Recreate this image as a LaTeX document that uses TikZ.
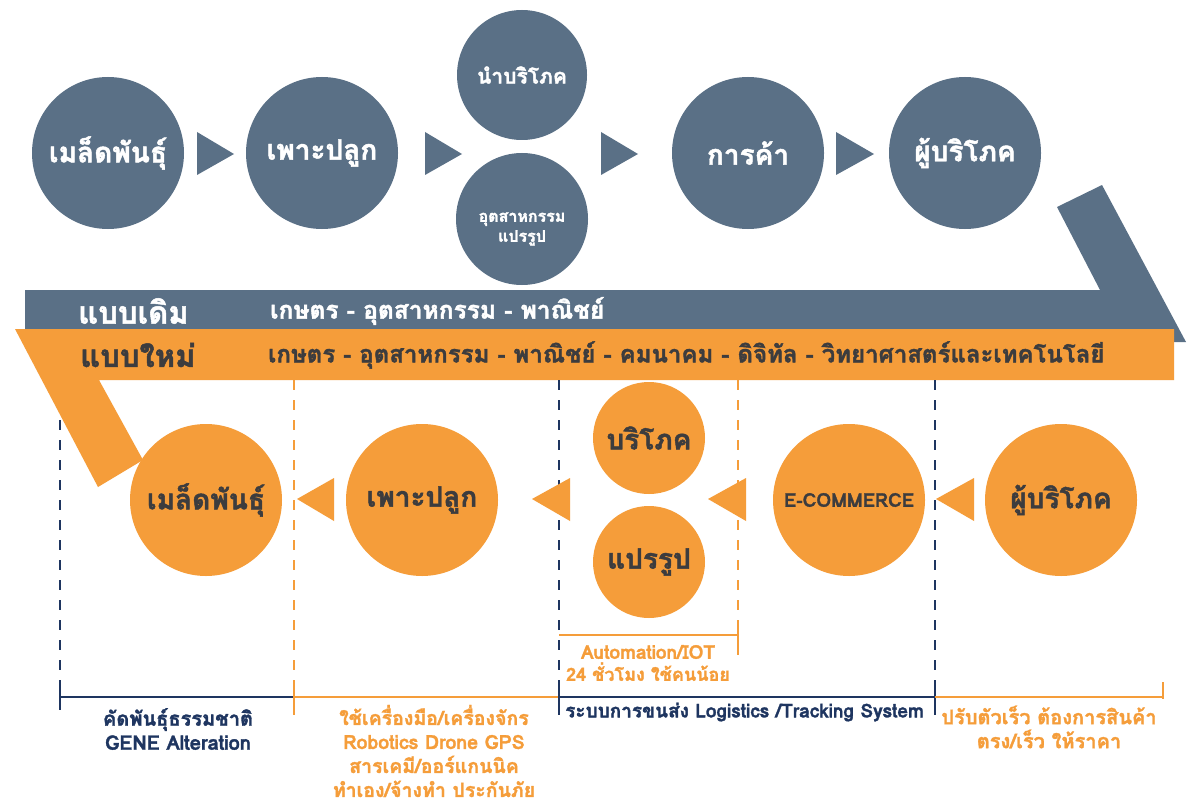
\documentclass[tikz,border=0pt]{standalone}
\usepackage{fontspec}
\setmainfont[Script=Thai, BoldFeatures={FakeBold=1.6}]{Loma}
\definecolor{slate}{HTML}{5A7086}
\definecolor{org}{HTML}{F59D3A}
\definecolor{navy}{HTML}{1E3560}
\definecolor{dk}{HTML}{3C3C3E}
\newcommand{\fsz}[1]{\fontsize{#1}{#1}\selectfont}
\begin{document}
\begin{tikzpicture}[x=1pt,y=-1pt,
  sc/.style={circle, fill=slate, text=white, minimum size=152pt, inner sep=0pt, font=\bfseries\fsz{28}},
  oc/.style={circle, fill=org, text=dk, minimum size=152pt, inner sep=0pt, font=\bfseries\fsz{28}},
  navydash/.style={navy, line width=2.5pt, dash pattern=on 10pt off 10pt},
  orgdash/.style={org, line width=2.5pt, dash pattern=on 10pt off 10pt},
  navyline/.style={navy, line width=2.5pt},
  orgline/.style={org, line width=2.5pt},
  lbl/.style={inner sep=0pt, align=center, font=\bfseries\fsz{20}}
]
\useasboundingbox (0,0) rectangle (1190,805);
\fill[white] (0,0) rectangle (1190,805);

% ---------- top row (old model) ----------
\node[sc] (s1) at (108,153) {เมล็ดพันธุ์};
\node[sc] (s2) at (322,153) {เพาะปลูก};
\node[sc, minimum size=130pt, font=\bfseries\fsz{21}] (s3a) at (522,75) {นำบริโภค};
\node[sc, minimum size=132pt] (s3b) at (522,219) {};
\node[inner sep=0pt, text=white, font=\bfseries\fsz{16}, align=center, yshift=-10pt] (s3bt) at (s3b.center) {อุตสาหกรรม\\[4pt]แปรรูป};
\node[sc] (s4) at (748,153) {การค้า};
\node[sc] (s5) at (965,153) {ผู้บริโภค};

\fill[slate] (197,132) -- (234,154) -- (197,175) -- cycle;
\fill[slate] (425,132) -- (462,154) -- (425,175) -- cycle;
\fill[slate] (601,132) -- (638,154) -- (601,175) -- cycle;
\fill[slate] (836,132) -- (874,154) -- (836,175) -- cycle;

% ---------- bands ----------
\fill[slate] (25,290) -- (1100,290) -- (1057,207) -- (1102,185) -- (1186,342) -- (25,342) -- cycle;
\fill[org] (15,329) -- (1174,329) -- (1174,380) -- (99,380) -- (143,460) -- (98,487) -- cycle;

\node[anchor=west, inner sep=0pt, text=white, font=\bfseries\fsz{31}] (oldlbl) at (78,311) {แบบเดิม};
\node[anchor=west, inner sep=0pt, text=white, font=\bfseries\fsz{24.5}] (oldtxt) at (270,311) {เกษตร - อุตสาหกรรม - พาณิชย์};
\node[anchor=west, inner sep=0pt, text=dk, font=\bfseries\fsz{31}] (newlbl) at (80,355) {แบบใหม่};
\node[anchor=west, inner sep=0pt, text=dk, font=\bfseries\fsz{24}] (newtxt) at (268,355) {เกษตร - อุตสาหกรรม - พาณิชย์ - คมนาคม - ดิจิทัล - วิทยาศาสตร์และเทคโนโลยี};

% ---------- dashed dividers ----------
\draw[navydash] (60,420) -- (60,688);
\draw[orgdash] (294,380) -- (294,690);
\draw[navydash] (559,380) -- (559,680);
\draw[orgdash] (738,380) -- (738,625);
\draw[navydash] (935,380) -- (935,680);

% ---------- bottom row (new model) ----------
\node[oc] (n1) at (206,500) {เมล็ดพันธุ์};
\node[oc] (n2) at (422,500) {เพาะปลูก};
\node[oc, minimum size=112pt] (n3a) at (649,438) {บริโภค};
\node[oc, minimum size=112pt] (n3b) at (649,562) {แปรรูป};
\node[oc, font=\bfseries\fsz{19}] (n4) at (849,500) {E-COMMERCE};
\node[oc] (n5) at (1061,500) {ผู้บริโภค};

\fill[org] (334,478) -- (297,499) -- (334,521) -- cycle;
\fill[org] (570,478) -- (532,499) -- (570,521) -- cycle;
\fill[org] (746,478) -- (708,499) -- (746,521) -- cycle;
\fill[org] (974,478) -- (936,499) -- (974,521) -- cycle;

% ---------- brackets ----------
\draw[orgline] (559,635) -- (738,635);
\draw[orgline] (738,625) -- (738,655);
\draw[navyline] (60,686) -- (60,710);
\draw[navyline] (60,697) -- (294,697);
\draw[orgline] (294,690) -- (294,715);
\draw[orgline] (294,697) -- (559,697);
\draw[navyline] (559,680) -- (559,715);
\draw[navyline] (559,697) -- (935,697);
\draw[navyline] (935,680) -- (935,715);
\draw[orgline] (935,697) -- (1163,697);
\draw[orgline] (1163,682) -- (1163,699);

% ---------- labels ----------
\node[lbl, text=org, font=\bfseries\fsz{19}] (auto) at (648,663) {Automation/IOT\\[3pt]{\fsz{18}24 ชั่วโมง ใช้คนน้อย}};
\node[lbl, text=navy] (gene) at (178,729) {คัดพันธุ์ธรรมชาติ\\[4pt]GENE Alteration};
\node[lbl, text=org, font=\bfseries\fsz{19.5}] (tools) at (434,751) {ใช้เครื่องมือ/เครื่องจักร\\[4.5pt]Robotics Drone GPS\\[4.5pt]สารเคมี/ออร์แกนนิค\\[4.5pt]ทำเอง/จ้างทำ ประกันภัย};
\node[lbl, text=navy, anchor=west, font=\bfseries\fsz{19}] (logi) at (565,712) {ระบบการขนส่ง Logistics /Tracking System};
\node[lbl, text=org] (cons) at (1049,727) {ปรับตัวเร็ว ต้องการสินค้า\\[4pt]ตรง/เร็ว ให้ราคา};
\end{tikzpicture}
\end{document}
